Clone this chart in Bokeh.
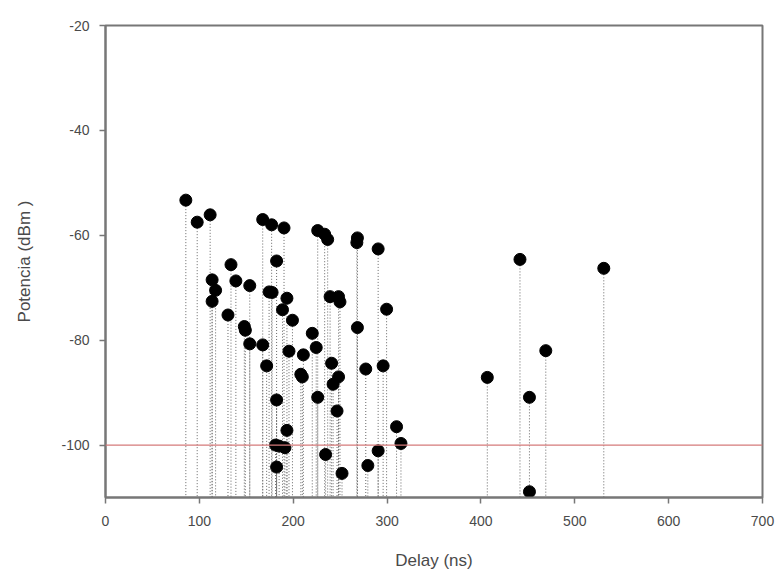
from bokeh.plotting import figure
from bokeh.models import Range1d, Span, FixedTicker, CustomJSTickFormatter
from bokeh.embed import file_html
from bokeh.resources import INLINE

delay_ns = [85.6, 97.7, 111.5, 113.6, 117.3, 113.6, 133.7, 138.9, 153.7, 130.5,
            147.9, 149.0, 153.7, 167.5, 177.0, 190.2, 182.3, 174.3, 177.5, 193.3,
            188.6, 199.2, 167.5, 195.5, 171.7, 182.3, 193.3, 181.2, 191.2, 182.3,
            226.1, 233.5, 236.7, 239.3, 248.3, 249.8, 220.3, 210.8, 224.5, 208.1,
            209.7, 240.9, 248.3, 242.5, 226.1, 246.7, 234.5, 252.0, 268.4, 267.8,
            290.5, 299.5, 268.4, 295.8, 277.3, 310.1, 314.8, 290.5, 279.5, 406.8,
            441.6, 451.7, 469.1, 451.7, 530.9, 185.0]
potencia_dbm = [-53.3, -57.5, -56.1, -68.5, -70.5, -72.6, -65.6, -68.7, -69.6, -75.2,
                -77.4, -78.1, -80.7, -57.0, -58.0, -58.6, -64.9, -70.8, -70.9, -72.0,
                -74.2, -76.2, -80.9, -82.1, -84.9, -91.4, -97.2, -100.0, -100.5, -104.2,
                -59.1, -59.8, -60.8, -71.7, -71.7, -72.7, -78.7, -82.8, -81.4, -86.5,
                -87.0, -84.4, -87.0, -88.4, -90.9, -93.5, -101.8, -105.4, -60.5, -61.4,
                -62.6, -74.1, -77.6, -84.9, -85.5, -96.5, -99.7, -101.1, -103.9, -87.1,
                -64.6, -90.9, -82.0, -108.9, -66.3, -100.2]
umbral_dbm = -100
x_ticks = [0, 100, 200, 300, 400, 500, 600, 700]
y_ticks = [-100, -80, -60, -40, -20]
y_min = -110

p = figure(width=776, height=572, output_backend="svg", toolbar_location=None,
           x_range=Range1d(0, 700), y_range=Range1d(-110, -20),
           min_border_left=105, min_border_right=14, min_border_top=25, min_border_bottom=74)

p.segment(x0=delay_ns, y0=potencia_dbm, x1=delay_ns, y1=[y_min] * len(delay_ns),
          line_color="#666666", line_width=1, line_dash="1 2")
p.add_layout(Span(location=umbral_dbm, dimension="width", line_color="#d57a7a", line_width=1.3))
p.scatter(delay_ns, potencia_dbm, size=12, fill_color="black", line_color="black")

p.grid.visible = False
p.outline_line_color = "#777777"
p.outline_line_width = 2

fmt = CustomJSTickFormatter(code="return tick.toString();")
for ax in (p.xaxis[0], p.yaxis[0]):
    ax.axis_line_color = "#777777"
    ax.axis_line_width = 2
    ax.major_tick_line_color = "#777777"
    ax.major_tick_line_width = 1.5
    ax.major_tick_out = 6
    ax.major_tick_in = 0
    ax.minor_tick_line_color = None
    ax.formatter = fmt
    ax.major_label_text_font = "Liberation Sans"
    ax.major_label_text_font_size = "14px"
    ax.major_label_text_color = "#4a4a4a"
    ax.axis_label_text_font = "Liberation Sans"
    ax.axis_label_text_font_size = "17px"
    ax.axis_label_text_font_style = "normal"
    ax.axis_label_text_color = "#4a4a4a"

p.xaxis.ticker = FixedTicker(ticks=x_ticks)
p.yaxis.ticker = FixedTicker(ticks=y_ticks)
p.xaxis.axis_label = "Delay (ns)"
p.yaxis.axis_label = "Potencia (dBm )"
p.xaxis.axis_label_standoff = 22
p.yaxis.axis_label_standoff = 24
p.xaxis.major_label_standoff = 12
p.yaxis.major_label_standoff = 10

open("out.html", "w").write(file_html(p, INLINE))
